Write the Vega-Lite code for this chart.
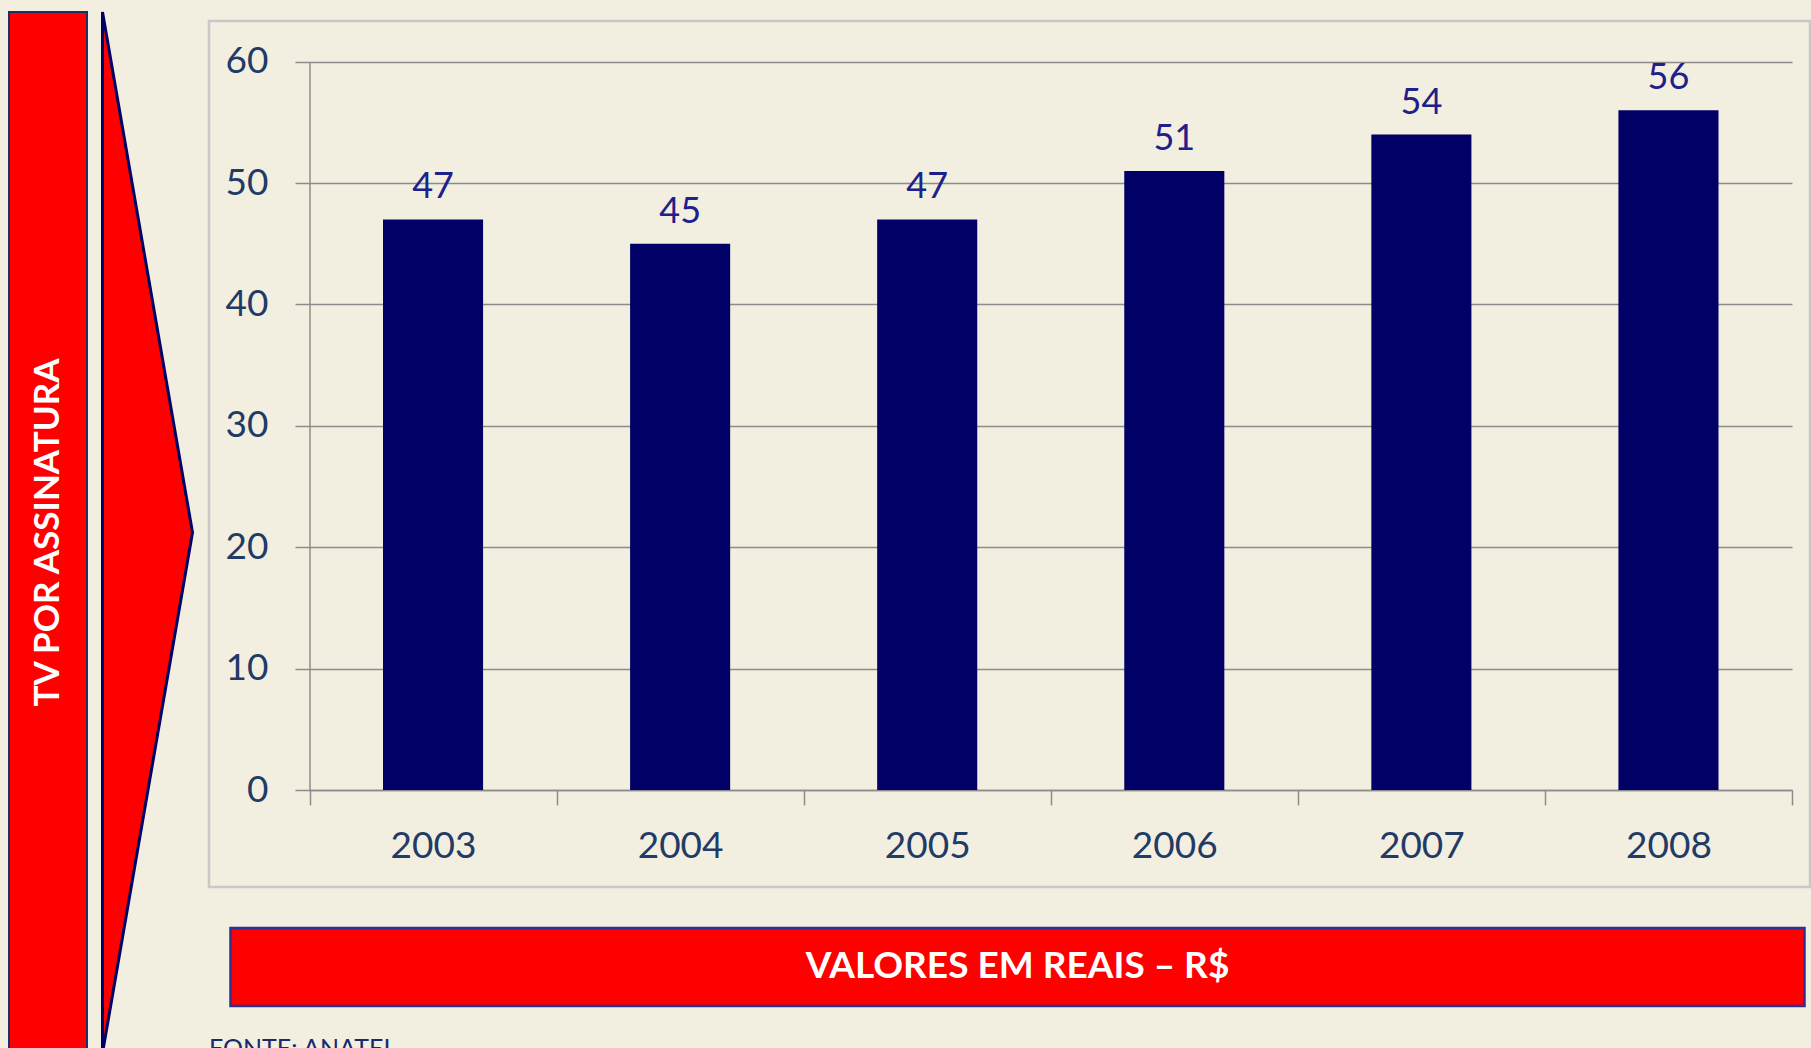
{
  "$schema": "https://vega.github.io/schema/vega-lite/v6.json",
  "background": "#F2EFE0",
  "padding": {"left": 8, "top": 6, "right": 0, "bottom": 0},
  "config": {"view": {"stroke": null}, "font": "Lato"},
  "datasets": {
    "tv": [
      {"ano": "2003", "valor": 47},
      {"ano": "2004", "valor": 45},
      {"ano": "2005", "valor": 47},
      {"ano": "2006", "valor": 51},
      {"ano": "2007", "valor": 54},
      {"ano": "2008", "valor": 56}
    ]
  },
  "spacing": 8.5,
  "hconcat": [
    {
      "width": 78,
      "height": 1041,
      "data": {"values": [{"rotulo": "TV POR ASSINATURA"}]},
      "view": {"fill": "#FF0000", "stroke": "#1F2F66", "strokeWidth": 2},
      "mark": {"type": "text", "angle": 270, "font": "Lato", "fontWeight": "bold", "fontSize": 35, "color": "#FFFFFF", "align": "center", "baseline": "middle"},
      "encoding": {"text": {"field": "rotulo"}}
    },
    {
      "width": 90,
      "height": 1041,
      "data": {"values": [{"t": 0, "w": 0}, {"t": 0.5, "w": 1}, {"t": 1, "w": 0}]},
      "mark": {"type": "area", "orient": "horizontal", "fill": "#FF0000", "fillOpacity": 1, "stroke": "#000066", "strokeWidth": 3},
      "encoding": {
        "y": {"field": "t", "type": "quantitative", "scale": {"domain": [0, 1], "nice": false}, "axis": null},
        "x": {"field": "w", "type": "quantitative", "scale": {"domain": [0, 1], "nice": false}, "axis": null, "stack": null}
      }
    },
    {
      "spacing": 6,
      "vconcat": [
        {
          "width": 1,
          "height": 1,
          "data": {"values": [{}]},
          "mark": {"type": "rect", "opacity": 0},
          "encoding": {}
        },
        {
          "spacing": 37,
          "vconcat": [
            {
              "width": 1601,
              "height": 866,
              "data": {"name": "tv"},
              "view": {"fill": "#F2EFE0", "stroke": "#C8C8C8", "strokeWidth": 2.5},
              "encoding": {
                "x": {
                  "field": "ano",
                  "type": "nominal",
                  "scale": {"type": "band", "paddingInner": 0, "paddingOuter": 0, "range": [100.5, 1583]},
                  "axis": {
                    "title": null, "orient": "bottom", "offset": -97, "tickBand": "extent",
                    "tickSize": 15, "tickColor": "#8C8C8C", "tickWidth": 1.5,
                    "domainColor": "#8C8C8C", "domainWidth": 1.5,
                    "labelFont": "Lato", "labelFontSize": 37, "labelColor": "#1F3B66",
                    "labelPadding": 23, "labelAngle": 0, "grid": false
                  }
                },
                "y": {
                  "field": "valor",
                  "type": "quantitative",
                  "scale": {"domain": [0, 60], "nice": false, "range": [769, 40.7]},
                  "axis": {
                    "title": null, "offset": -100.5, "values": [0, 10, 20, 30, 40, 50, 60],
                    "tickSize": 14.5, "tickColor": "#8C8C8C", "tickWidth": 1.5,
                    "domainColor": "#8C8C8C", "domainWidth": 1.5,
                    "grid": true, "gridColor": "#8C8C8C", "gridWidth": 1.5,
                    "labelFont": "Lato", "labelFontSize": 37, "labelColor": "#1F3B66",
                    "labelPadding": 27
                  }
                }
              },
              "layer": [
                {"mark": {"type": "bar", "width": {"band": 0.405}, "color": "#000066"}},
                {
                  "mark": {"type": "text", "dy": -21, "baseline": "alphabetic", "fontSize": 36, "font": "Lato", "color": "#20208A"},
                  "encoding": {"text": {"field": "valor", "type": "quantitative"}}
                }
              ]
            },
            {
              "spacing": 24,
              "vconcat": [
                {
                  "spacing": 18.5,
                  "hconcat": [
                    {
                      "width": 1,
                      "height": 1,
                      "data": {"values": [{}]},
                      "mark": {"type": "rect", "opacity": 0},
                      "encoding": {}
                    },
                    {
                      "width": 1574,
                      "height": 78,
                      "data": {"values": [{"rotulo": "VALORES EM REAIS  – R$"}]},
                      "view": {"fill": "#FF0000", "stroke": "#2E3192", "strokeWidth": 2.5},
                      "mark": {"type": "text", "font": "Lato", "fontWeight": "bold", "fontSize": 37, "color": "#FFFFFF", "align": "center", "baseline": "middle"},
                      "encoding": {"text": {"field": "rotulo"}}
                    }
                  ]
                },
                {
                  "width": 300,
                  "height": 18,
                  "data": {"values": [{"rotulo": "FONTE: ANATEL"}]},
                  "mark": {"type": "text", "clip": true, "font": "Lato", "fontSize": 25, "color": "#1A2A6C", "align": "left", "baseline": "alphabetic", "dy": 16},
                  "encoding": {"text": {"field": "rotulo"}, "x": {"value": 0}}
                }
              ]
            }
          ]
        }
      ]
    }
  ]
}
